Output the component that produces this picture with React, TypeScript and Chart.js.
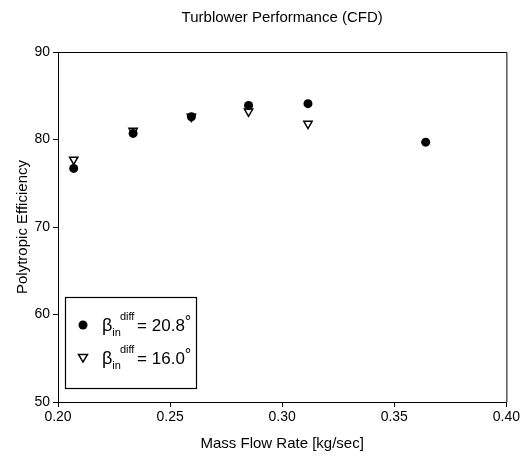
import React, { useEffect, useRef } from "react";
import { Chart, registerables } from "chart.js";

Chart.register(...registerables);

const massFlow20 = [0.207, 0.2335, 0.2595, 0.285, 0.3115, 0.364];
const eff20 = [76.7, 80.7, 82.6, 83.9, 84.1, 79.7];
const massFlow16 = [0.207, 0.2335, 0.2595, 0.285, 0.3115];
const eff16 = [77.7, 81.0, 82.6, 83.2, 81.8];
const xTicks = [0.2, 0.25, 0.3, 0.35, 0.4];
const yTicks = [50, 60, 70, 80, 90];
const legendValues = ["20.8", "16.0"];
const titleText = "Turblower Performance (CFD)";
const xTitle = "Mass Flow Rate [kg/sec]";
const yTitle = "Polytropic Efficiency";

const FONT = "'Liberation Sans', Arial, sans-serif";

function drawCircle(ctx: CanvasRenderingContext2D, x: number, y: number, r: number) {
  ctx.beginPath();
  ctx.arc(x, y, r, 0, Math.PI * 2);
  ctx.fillStyle = "#000";
  ctx.fill();
}
function drawTri(ctx: CanvasRenderingContext2D, x: number, y: number, r: number) {
  ctx.beginPath();
  ctx.moveTo(x - r, y - r * 0.8);
  ctx.lineTo(x + r, y - r * 0.8);
  ctx.lineTo(x, y + r * 0.9);
  ctx.closePath();
  ctx.fillStyle = "#fff";
  ctx.fill();
  ctx.lineWidth = 1.5;
  ctx.strokeStyle = "#000";
  ctx.stroke();
}

const framePlugin = {
  id: "frame",
  afterDraw(chart: any) {
    const { ctx, chartArea } = chart;
    const { left, right, top, bottom } = chartArea;
    ctx.save();
    ctx.strokeStyle = "#000";
    ctx.lineWidth = 1;
    ctx.beginPath();
    ctx.moveTo(left, top + 0.5);
    ctx.lineTo(right + 0.5, top + 0.5);
    ctx.lineTo(right + 0.5, bottom);
    ctx.stroke();

    // title
    ctx.fillStyle = "#000";
    ctx.font = `15px ${FONT}`;
    ctx.textAlign = "center";
    ctx.textBaseline = "middle";
    ctx.fillText(titleText, (left + right) / 2, 18);

    // legend box
    const bx = left + 7;
    const by = bottom - 105;
    const bw = 131;
    const bh = 91;
    ctx.fillStyle = "#fff";
    ctx.fillRect(bx, by, bw, bh);
    ctx.lineWidth = 1.2;
    ctx.strokeRect(bx + 0.5, by + 0.5, bw, bh);

    const rows = [by + 28, by + 61];
    legendValues.forEach((v, i) => {
      const y = rows[i];
      if (i === 0) drawCircle(ctx, bx + 18, y, 4.5);
      else drawTri(ctx, bx + 18, y, 4.5);
      ctx.fillStyle = "#000";
      ctx.textAlign = "left";
      ctx.textBaseline = "alphabetic";
      let x = bx + 37;
      ctx.font = `18px ${FONT}`;
      ctx.fillText("β", x, y + 6);
      x += ctx.measureText("β").width;
      ctx.font = `11px ${FONT}`;
      ctx.fillText("in", x, y + 11);
      const inW = ctx.measureText("in").width;
      ctx.fillText("diff", x + inW - 1, y - 5);
      x += inW + ctx.measureText("diff").width;
      ctx.font = `17px ${FONT}`;
      const t = " = " + v;
      ctx.fillText(t, x - 3, y + 6);
      x += ctx.measureText(t).width - 3;
      ctx.font = `16px ${FONT}`;
      ctx.fillText("°", x, y + 2);
    });
    ctx.restore();
  },
};

export default function App() {
  const ref = useRef<HTMLCanvasElement | null>(null);
  useEffect(() => {
    if (!ref.current) return;
    const chart = new Chart(ref.current, {
      type: "scatter",
      data: {
        datasets: [
          {
            label: "20.8",
            data: massFlow20.map((x, i) => ({ x, y: eff20[i] })),
            pointStyle: "circle",
            pointRadius: 4.5,
            backgroundColor: "#000",
            borderColor: "#000",
            borderWidth: 0,
          },
          {
            label: "16.0",
            data: massFlow16.map((x, i) => ({ x, y: eff16[i] })),
            pointStyle: "triangle",
            rotation: 180,
            pointRadius: 4.8,
            backgroundColor: "#fff",
            borderColor: "#000",
            borderWidth: 1.5,
          },
        ],
      },
      options: {
        animation: false,
        responsive: false,
        devicePixelRatio: 1,
        layout: { padding: { top: 52, right: 13, left: 0, bottom: 0 } },
        plugins: {
          legend: { display: false },
          title: { display: false },
          tooltip: { enabled: false },
        },
        scales: {
          x: {
            type: "linear",
            min: 0.2,
            max: 0.4,
            afterBuildTicks: (s: any) => {
              s.ticks = xTicks.map((v) => ({ value: v }));
            },
            afterFit: (s: any) => {
              s.height = 61;
            },
            ticks: {
              color: "#000",
              font: { family: FONT, size: 14 },
              padding: 2,
              maxRotation: 0,
              callback: (v: any) => Number(v).toFixed(2),
            },
            grid: { drawOnChartArea: false, drawTicks: true, tickLength: 5, color: "#000" },
            border: { color: "#000", width: 1 },
            title: {
              display: true,
              text: xTitle,
              color: "#000",
              font: { family: FONT, size: 15 },
              padding: { top: 4, bottom: 10 },
            },
          },
          y: {
            type: "linear",
            min: 50,
            max: 90,
            afterBuildTicks: (s: any) => {
              s.ticks = yTicks.map((v) => ({ value: v }));
            },
            afterFit: (s: any) => {
              s.width = 58;
            },
            ticks: {
              color: "#000",
              font: { family: FONT, size: 14 },
              padding: 3,
            },
            grid: { drawOnChartArea: false, drawTicks: true, tickLength: 5, color: "#000" },
            border: { color: "#000", width: 1 },
            title: {
              display: true,
              text: yTitle,
              color: "#000",
              font: { family: FONT, size: 15 },
              padding: { bottom: 0, top: 14 },
            },
          },
        },
      },
      plugins: [framePlugin],
    } as any);
    return () => chart.destroy();
  }, []);
  return (
    <div style={{ position: "absolute", left: 0, top: 0, width: 522, height: 463, background: "#fff" }}>
      <canvas ref={ref} width={522} height={463} style={{ width: 522, height: 463 }} />
    </div>
  );
}
